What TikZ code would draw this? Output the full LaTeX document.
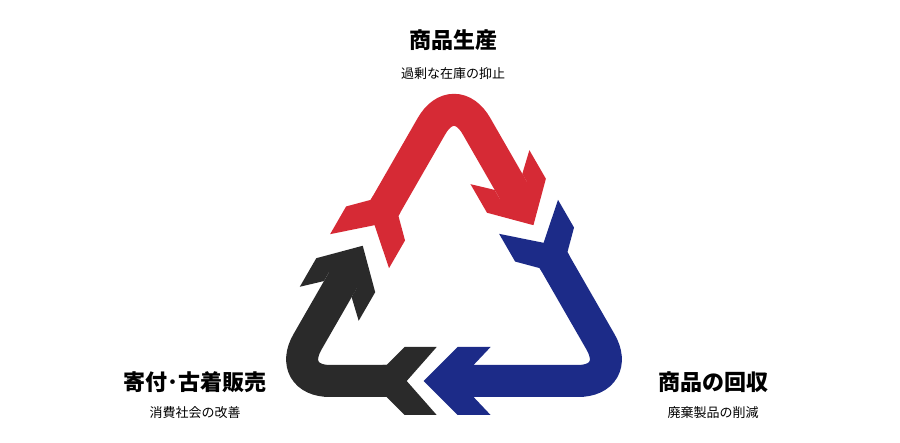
\documentclass[tikz,border=0pt]{standalone}
\usepackage{fontspec}
\newfontfamily\cjk{Noto Sans CJK JP}
\usetikzlibrary{calc}

\definecolor{recred}{HTML}{D62A35}
\definecolor{recblue}{HTML}{1C2B88}
\definecolor{recblack}{HTML}{2A2A2A}

\tikzset{
  band/.style={line width=32pt, rounded corners=45pt},
  title/.style={font=\cjk\bfseries\fontsize{22}{25}\selectfont},
  subtitle/.style={font=\cjk\fontsize{13}{15}\selectfont}
}
\def\arrowhead{(0,0) -- (-34,34) -- (-67,34) -- (-50,16) -- (-40,16) -- (-40,-16) -- (-50,-16) -- (-67,-34) -- (-34,-34) -- cycle}
\def\arrowtail{(0,0) -- (-30,34) -- (2,34) -- (20,16) -- (24,16) -- (24,-16) -- (20,-16) -- (2,-34) -- (-30,-34) -- cycle}

\begin{document}
\begin{tikzpicture}[x=1pt, y=1pt]
      \useasboundingbox (0,0) rectangle (900,442);
      \coordinate (A) at (454,355);
      \coordinate (B) at (623,61);
      \coordinate (C) at (285,61);
      % tips and notches along the sides
      \coordinate (tipR) at ($(A)!0.47!(B)$);
      \coordinate (notchB) at ($(A)!0.53!(B)$);
      \coordinate (tipB) at ($(B)!0.59!(C)$);
      \coordinate (notchK) at ($(B)!0.64!(C)$);
      \coordinate (tipK) at ($(C)!0.46!(A)$);
      \coordinate (notchR) at ($(C)!0.53!(A)$);
      % red
      \draw[band, recred] ($(notchR)!10pt!(A)$) -- (A) -- ($(tipR)!30pt!(A)$);
      \begin{scope}[shift={(notchR)}, rotate=60]
        \fill[recred] \arrowtail;
      \end{scope}
      \begin{scope}[shift={(tipR)}, rotate=-60]
        \fill[recred] \arrowhead;
      \end{scope}
      % blue
      \draw[band, recblue] ($(notchB)!10pt!(B)$) -- (B) -- ($(tipB)!30pt!(B)$);
      \begin{scope}[shift={(notchB)}, rotate=-60]
        \fill[recblue] \arrowtail;
      \end{scope}
      \begin{scope}[shift={(tipB)}, rotate=180]
        \fill[recblue] \arrowhead;
      \end{scope}
      % black
      \draw[band, recblack] ($(notchK)!10pt!(C)$) -- (C) -- ($(tipK)!30pt!(C)$);
      \begin{scope}[shift={(notchK)}, rotate=180]
        \fill[recblack] \arrowtail;
      \end{scope}
      \begin{scope}[shift={(tipK)}, rotate=60]
        \fill[recblack] \arrowhead;
      \end{scope}
      % labels
      \node[title] (produce) at (453,402) {商品生産};
      \node[subtitle] (produceSub) at (453,368) {過剰な在庫の抑止};
      \node[title] (donate) at (195,60) {寄付･古着販売};
      \node[subtitle] (donateSub) at (195,29) {消費社会の改善};
      \node[title] (collect) at (713,60) {商品の回収};
      \node[subtitle] (collectSub) at (713,29) {廃棄製品の削減};
\end{tikzpicture}
\end{document}
